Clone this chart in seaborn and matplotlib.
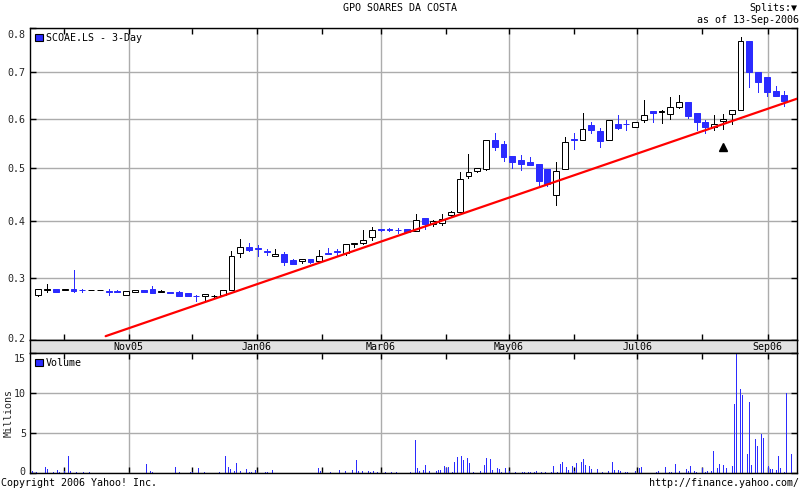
import numpy as np
import pandas as pd
import seaborn as sns
import matplotlib
matplotlib.use('Agg')
import matplotlib.pyplot as plt
import matplotlib.dates as mdates
import matplotlib.transforms as mtrans
from matplotlib.patches import Patch

title = 'GPO SOARES DA COSTA'
ticker = 'SCOAE.LS - 3-Day'

# 3-day candles, first and last candle date
first_candle, last_candle = '2005-09-19', '2006-09-09'
opens = [.272, .281, .282, .280, .283, .281, .280, .280, .279, .279,
         .272, .278, .281, .282, .278, .278, .278, .276, .271, .270,
         .270, .273, .281, .344, .354, .352, .347, .338, .342, .331,
         .329, .333, .329, .343, .347, .343, .360, .362, .371, .386,
         .386, .385, .386, .382, .407, .395, .397, .412, .418, .485,
         .495, .498, .557, .549, .524, .516, .512, .508, .498, .448,
         .498, .558, .557, .587, .575, .556, .589, .589, .583, .597,
         .616, .614, .609, .624, .636, .611, .592, .582, .596, .609,
         .618, .769, .701, .689, .658, .649]
highs = [.283, .290, .282, .283, .314, .283, .281, .281, .282, .281,
         .279, .281, .281, .287, .280, .278, .279, .276, .272, .274,
         .273, .281, .347, .369, .362, .357, .350, .350, .346, .334,
         .334, .333, .349, .353, .351, .359, .362, .385, .389, .387,
         .388, .388, .386, .413, .407, .402, .413, .419, .492, .528,
         .501, .557, .571, .554, .524, .526, .523, .508, .498, .512,
         .562, .570, .611, .592, .580, .597, .607, .597, .594, .639,
         .616, .618, .645, .650, .636, .611, .598, .607, .609, .618,
         .780, .769, .701, .689, .669, .658]
lows = [.271, .277, .278, .280, .278, .278, .280, .280, .272, .277,
        .272, .278, .278, .276, .277, .276, .270, .270, .262, .264,
        .268, .273, .281, .336, .347, .338, .340, .338, .323, .324,
        .326, .326, .329, .342, .341, .341, .355, .359, .367, .383,
        .382, .379, .380, .382, .386, .391, .394, .410, .417, .482,
        .493, .496, .536, .515, .501, .497, .507, .467, .465, .431,
        .498, .539, .557, .571, .543, .556, .578, .577, .582, .594,
        .592, .590, .599, .623, .601, .576, .571, .577, .578, .588,
        .618, .668, .656, .647, .648, .626]
closes = [.282, .282, .278, .283, .279, .280, .281, .281, .278, .278,
          .279, .281, .278, .276, .279, .276, .271, .270, .270, .274,
          .271, .281, .339, .354, .349, .350, .345, .342, .328, .325,
          .334, .328, .339, .342, .346, .359, .361, .367, .384, .385,
          .385, .384, .380, .402, .395, .400, .404, .418, .480, .493,
          .501, .557, .543, .523, .513, .508, .507, .475, .469, .495,
          .553, .556, .578, .576, .555, .597, .580, .588, .594, .608,
          .611, .615, .624, .636, .605, .593, .582, .589, .600, .618,
          .770, .701, .678, .656, .648, .637]

# daily volume (millions), days counted from the chart start
chart_start, chart_end = '2005-09-15', '2006-09-15'
vol_day = [1, 3, 7, 8, 11, 13, 14, 16, 18, 19, 22, 25, 28, 55, 57, 58, 69, 71,
           76, 77, 80, 83, 90, 93, 94, 95, 97, 98, 100, 103, 104, 105, 107,
           112, 113, 115, 137, 138, 143, 147, 150, 153, 155, 156, 158, 161,
           162, 163, 165, 169, 172, 174,
           181, 183, 184, 185, 187, 188, 190, 193, 194, 195, 197, 198, 199,
           201, 202, 203, 205, 206, 208, 209, 211, 214, 216, 217, 219, 220,
           222, 223, 224, 226, 228, 231, 234, 235, 237, 238, 240, 241, 243,
           245, 248, 249, 251, 252, 253, 255, 256, 258, 259, 260, 262, 263,
           264, 266, 267, 270, 272, 275, 277, 278, 280, 281, 283, 284, 288,
           290, 291, 298, 299, 302, 304, 305, 307, 309, 312, 313, 314, 316,
           317, 320, 321, 322, 324, 325, 327, 328, 330, 331, 334, 335, 336,
           338, 339, 341, 342, 343, 345, 346, 348, 349, 351, 352, 353, 355,
           356, 357, 359, 360, 362]
vol_mil = [0.2, 0.1, 0.7, 0.5, 0.1, 0.35, 0.1, 0.25, 2.1, 0.2, 0.1, 0.1, 0.1,
           1.1, 0.2, 0.1, 0.7, 0.1, 0.1, 0.15, 0.6, 0.1, 0.1, 2.1, 0.75, 0.5,
           0.25, 1.2, 0.25, 0.5, 0.1, 0.15, 0.4, 0.1, 0.1, 0.4, 0.6, 0.25,
           0.1, 0.4, 0.3, 0.4, 1.65, 0.2, 0.2, 0.2, 0.1, 0.2, 0.1, 0.1, 0.1,
           0.1,
           0.1, 4.15, 0.6, 0.2, 0.35, 0.95, 0.2, 0.2, 0.4, 0.35,
           0.85, 0.6, 0.7, 0.1, 1.35, 2.0, 2.1, 1.6, 1.85, 1.2,
           0.1, 0.2, 1.0, 1.85, 1.75, 0.4, 0.6, 0.45, 0.1, 0.6,
           0.2, 0.1, 0.1, 0.1, 0.1, 0.1, 0.1, 0.2, 0.1, 0.1,
           0.1, 0.85, 0.1, 1.1, 1.35, 0.7, 0.35, 0.85, 0.2, 1.2,
           1.35, 1.75, 1.0, 0.85, 0.5, 0.45, 0.1, 0.2, 1.35, 0.35,
           0.35, 0.2, 0.1, 0.1, 0.2, 0.6, 0.7, 0.1, 0.2, 0.7,
           0.1, 0.1, 1.1, 0.2, 0.45, 0.2, 0.85, 0.2, 0.1, 0.6,
           0.1, 0.2, 0.2, 2.75, 0.6, 1.1, 1.0, 0.6, 0.85, 8.6,
           14.9, 10.5, 9.75, 2.35, 8.85, 1.0, 4.3, 3.4, 4.9, 4.4,
           0.85, 0.5, 0.5, 0.4, 2.1, 0.6, 0.1, 10.0, 2.35]

# trend line end points
trend_dates = ['2005-10-21', '2006-09-16']
trend_vals = [0.206, 0.6435]

# split marker
split_candle = 78
split_mark = 0.542

price_ticks = [0.2, 0.3, 0.4, 0.5, 0.6, 0.7, 0.8]
vol_ticks = [0, 5, 10, 15]

blue = '#2b2bff'
gridc = '#acacac'
px = 0.72  # one pixel in points at 100 dpi

sns.set_theme(style='white')
plt.rcParams['font.family'] = ['DejaVu Sans Mono', 'DejaVu Sans']
plt.rcParams['font.size'] = 7.2
plt.rcParams['text.color'] = 'black'

fig = plt.figure(figsize=(8, 4.88), dpi=100)
ax = fig.add_axes([30/800, 1-340/488, 767/800, 312/488])
band = fig.add_axes([30/800, 1-353/488, 767/800, 13/488])
vax = fig.add_axes([30/800, 1-473/488, 767/800, 120/488])

x0, x1 = mdates.date2num(pd.Timestamp(chart_start)), mdates.date2num(pd.Timestamp(chart_end))

dates = pd.date_range(first_candle, last_candle, periods=len(opens))
x = mdates.date2num(dates)
o, h, l, c = map(np.array, (opens, highs, lows, closes))
up = c >= o
dn = ~up

ax.set_yscale('function', functions=(np.log1p, np.expm1))
ax.vlines(x[up], l[up], h[up], color='black', lw=px, zorder=2, antialiased=False)
ax.vlines(x[dn], l[dn], h[dn], color=blue, lw=px, zorder=2, antialiased=False)
ax.bar(x[up], c[up] - o[up], bottom=o[up], width=2.8, facecolor='white',
       edgecolor='black', linewidth=px, zorder=3)
ax.bar(x[dn], o[dn] - c[dn], bottom=c[dn], width=2.8, facecolor=blue,
       edgecolor=blue, linewidth=px, zorder=3)

tx = mdates.date2num(pd.to_datetime(trend_dates))
sns.lineplot(x=tx, y=trend_vals, ax=ax, color='#ff0000', lw=1.6, zorder=4)
ax.plot(x[split_candle], split_mark, marker='^', color='black', ms=6, zorder=4)

vx = x0 + np.array(vol_day)
vax.vlines(vx, 0, vol_mil, color=blue, lw=px, antialiased=False)

major = mdates.MonthLocator(bymonth=[1, 3, 5, 7, 9, 11])
minor = mdates.MonthLocator(bymonth=[2, 4, 6, 8, 10, 12])
for a in (ax, band, vax):
    a.set_xlim(x0, x1)
    a.xaxis.set_major_locator(major)
    a.xaxis.set_minor_locator(minor)
    a.set_xticklabels([])
    for s in a.spines.values():
        s.set_color('black')
        s.set_linewidth(1)
    a.set_xlabel('')
    a.set_ylabel('')

ax.set_ylim(0.2, 0.8)
ax.set_yticks(price_ticks)
ax.set_yticklabels([f'{t:.1f}' for t in price_ticks])
ax.grid(True, color=gridc, lw=1)
ax.tick_params(which='both', direction='in', length=4, width=1, color='black',
               top=True, bottom=True, left=True, right=True, pad=3, labelsize=7.2)

vax.set_ylim(0, 15)
vax.set_yticks(vol_ticks)
vax.set_yticklabels([str(t) for t in vol_ticks])
vax.grid(True, color=gridc, lw=1)
vax.tick_params(which='both', direction='in', length=4, width=1, color='black',
                top=True, bottom=True, left=True, right=True, pad=3, labelsize=7.2)
vax.set_ylabel('Millions', fontsize=7.2, va='center')
vax.yaxis.set_label_coords(-21/767, 0.5)

# nudge the edge labels inside, as on the original
def nudge(lbl, dy_px):
    lbl.set_transform(lbl.get_transform() + mtrans.ScaledTranslation(0, dy_px / 100, fig.dpi_scale_trans))

ylab = ax.get_yticklabels()
nudge(ylab[-1], -6)
nudge(ylab[0], 2)
vlab = vax.get_yticklabels()
nudge(vlab[-1], -5)
nudge(vlab[0], 2)

band.set_facecolor('#e2e2e2')
band.set_yticks([])
band.tick_params(which='both', length=0)
for d in major.tick_values(mdates.num2date(x0), mdates.num2date(x1)):
    if x0 < d < x1:
        band.text(d, 0.5, mdates.num2date(d).strftime('%b%y'), ha='center',
                  va='center', transform=band.get_xaxis_transform(), fontsize=7.2)

ax.legend(handles=[Patch(facecolor=blue, edgecolor='black', lw=0.8)], labels=[ticker],
          loc='upper left', frameon=False, handlelength=0.75, handleheight=0.75,
          handletextpad=0.3, borderaxespad=0.3, borderpad=0.2, fontsize=7.2)
vax.legend(handles=[Patch(facecolor=blue, edgecolor='black', lw=0.8)], labels=['Volume'],
           loc='upper left', frameon=False, handlelength=0.75, handleheight=0.75,
           handletextpad=0.3, borderaxespad=0.3, borderpad=0.2, fontsize=7.2)

fig.text(0.5, 1 - 8/488, title, ha='center', va='center')
fig.text(0.997, 1 - 8/488, 'Splits:▼', ha='right', va='center')
fig.text(0.999, 1 - 20/488, 'as of 13-Sep-2006', ha='right', va='center')
fig.text(0.001, 1 - 483/488, 'Copyright 2006 Yahoo! Inc.', ha='left', va='center')
fig.text(0.999, 1 - 483/488, 'http://finance.yahoo.com/', ha='right', va='center')

fig.savefig('out.png', dpi=100, facecolor='white')
